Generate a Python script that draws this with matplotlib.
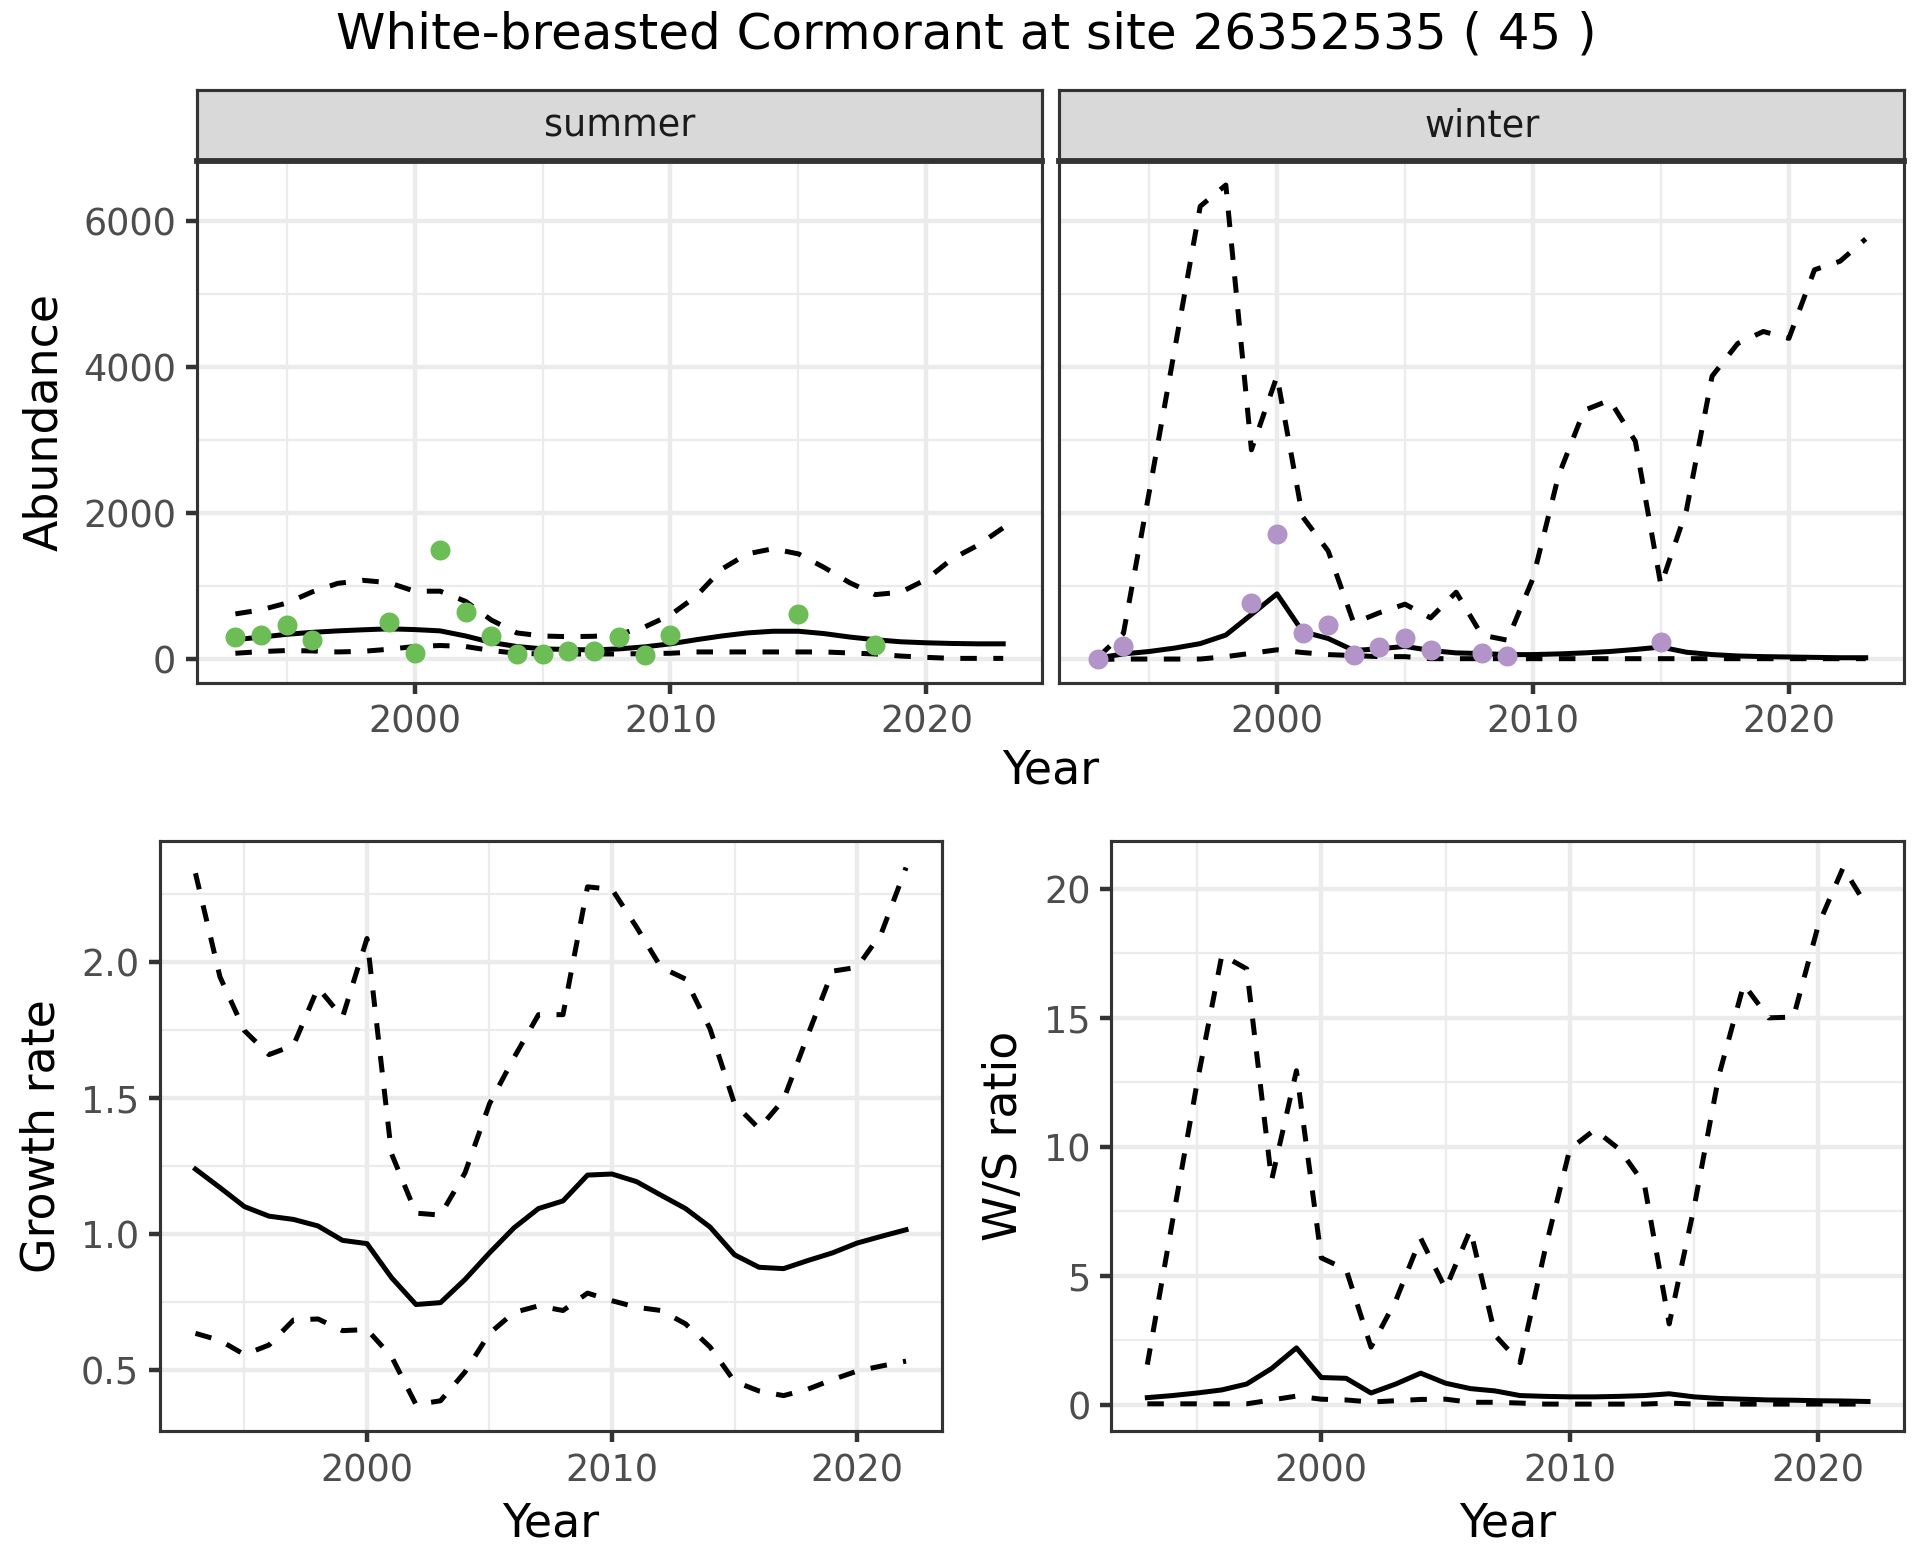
import matplotlib
matplotlib.use('Agg')
import matplotlib.pyplot as plt
from matplotlib.ticker import MultipleLocator
import numpy as np

plt.rcParams['font.family'] = 'DejaVu Sans'

# ---- data ----
years_ab = list(range(1993, 2024))

summer_mean = [270, 305, 343, 370, 390, 405, 418, 408, 390, 320, 232, 176, 144, 135, 130, 144,
               172, 213, 269, 320, 362, 385, 385, 353, 306, 269, 241, 227, 218, 213, 213]
summer_hi = [622, 677, 770, 923, 1040, 1081, 1049, 933, 933, 793, 538, 362, 320, 311, 316, 343,
             445, 608, 863, 1234, 1443, 1513, 1443, 1258, 1049, 886, 919, 1095, 1374, 1559, 1800]
summer_lo = [84, 107, 121, 116, 102, 111, 139, 176, 190, 176, 121, 84, 74, 74, 74, 74,
             79, 84, 102, 102, 102, 102, 102, 102, 88, 74, 46, 28, 14, 14, 14]
summer_obs_year = [1993, 1994, 1995, 1996, 1999, 2000, 2001, 2002, 2003, 2004, 2005, 2006,
                   2007, 2008, 2009, 2010, 2015, 2018]
summer_obs = [302, 334, 464, 260, 515, 93, 1490, 650, 320, 74, 70, 116, 111, 302, 65, 334, 617, 195]

winter_mean = [19, 75, 108, 155, 216, 333, 614, 896, 380, 286, 122, 145, 178, 122, 89, 80,
               66, 66, 75, 89, 108, 136, 169, 98, 66, 47, 38, 33, 28, 23, 23]
winter_hi = [28, 356, 2275, 4235, 6196, 6487, 2866, 3874, 1951, 1482, 497, 638, 755, 568, 919, 333,
             263, 1107, 2514, 3405, 3546, 2983, 1013, 2045, 3874, 4320, 4484, 4390, 5328, 5445, 5750]
winter_lo = [0, 5, 5, 5, 5, 38, 84, 131, 94, 66, 52, 38, 38, 10, 10, 10,
             10, 10, 10, 10, 10, 10, 10, 10, 10, 10, 10, 10, 10, 10, 10]
winter_obs_year = [1993, 1994, 1999, 2000, 2001, 2002, 2003, 2004, 2005, 2006, 2008, 2009, 2015]
winter_obs = [0, 178, 765, 1717, 366, 474, 66, 169, 286, 122, 84, 42, 239]

years_r = list(range(1993, 2023))
growth_mean = [1.237, 1.169, 1.099, 1.064, 1.052, 1.028, 0.975, 0.963, 0.838, 0.739, 0.746, 0.831,
               0.929, 1.021, 1.092, 1.120, 1.215, 1.219, 1.191, 1.141, 1.092, 1.024, 0.922, 0.876,
               0.871, 0.901, 0.929, 0.965, 0.990, 1.014]
growth_hi = [2.325, 1.944, 1.746, 1.658, 1.692, 1.904, 1.795, 2.085, 1.294, 1.075, 1.068, 1.223,
             1.477, 1.647, 1.805, 1.805, 2.275, 2.266, 2.127, 1.979, 1.936, 1.753, 1.477, 1.386,
             1.492, 1.732, 1.965, 1.979, 2.106, 2.346]
growth_lo = [0.633, 0.607, 0.555, 0.590, 0.682, 0.686, 0.643, 0.647, 0.548, 0.371, 0.385, 0.491,
             0.633, 0.710, 0.734, 0.717, 0.781, 0.753, 0.729, 0.717, 0.668, 0.583, 0.456, 0.421,
             0.404, 0.428, 0.463, 0.494, 0.513, 0.531]

ws_mean = [0.27, 0.35, 0.45, 0.57, 0.80, 1.40, 2.20, 1.05, 1.02, 0.45, 0.80, 1.22, 0.83, 0.62,
           0.53, 0.35, 0.32, 0.30, 0.30, 0.32, 0.35, 0.42, 0.30, 0.24, 0.21, 0.18, 0.17, 0.15,
           0.14, 0.12]
ws_hi = [1.55, 7.05, 12.47, 17.44, 16.9, 8.7, 12.95, 5.69, 5.24, 2.23, 4.04, 6.45, 4.49, 6.78,
         2.68, 1.63, 5.99, 9.91, 10.66, 9.9, 8.55, 3.13, 7.65, 12.77, 16.3, 15.0, 15.03, 18.6,
         20.83, 19.25]
ws_lo = [0.03, 0.03, 0.03, 0.03, 0.03, 0.18, 0.33, 0.21, 0.18, 0.10, 0.15, 0.20, 0.21, 0.09,
         0.09, 0.06, 0.02, 0.02, 0.02, 0.02, 0.02, 0.06, 0.02, 0.02, 0.02, 0.02, 0.02, 0.02,
         0.02, 0.02]

title = 'White-breasted Cormorant at site 26352535 ( 45 )'
green = '#6DBD57'
purple = '#B394C9'

# ---- ggplot theme_bw-ish helpers ----
LW = 1.07       # grid / ticks
DLW = 1.2       # data lines
BLW = 0.75      # panel border
GRID = '#EBEBEB'
DARK = '#333333'
TICKC = '#4D4D4D'
DASH = (0, (3.3, 3.3))


def expand(lo, hi, f=0.05):
    d = (hi - lo) * f
    return lo - d, hi + d


def style(ax, xlim, ylim, ymaj, ymin):
    ax.set_xlim(*xlim)
    ax.set_ylim(*ylim)
    ax.xaxis.set_major_locator(MultipleLocator(10))
    ax.xaxis.set_minor_locator(MultipleLocator(5))
    ax.yaxis.set_major_locator(MultipleLocator(ymaj))
    ax.yaxis.set_minor_locator(MultipleLocator(ymin))
    ax.grid(which='major', color=GRID, lw=LW)
    ax.grid(which='minor', color=GRID, lw=LW / 2)
    ax.set_axisbelow(True)
    for s in ax.spines.values():
        s.set_color(DARK)
        s.set_linewidth(BLW)
    ax.tick_params(which='major', length=2.75, width=LW, color=DARK,
                   labelsize=8.8, labelcolor=TICKC, pad=2.2)
    ax.tick_params(which='minor', length=0)


def lines(ax, x, mid, hi, lo):
    ax.plot(x, hi, color='black', lw=DLW, ls=DASH)
    ax.plot(x, lo, color='black', lw=DLW, ls=DASH)
    ax.plot(x, mid, color='black', lw=DLW)


fig = plt.figure(figsize=(6.4, 5.2), dpi=300)

# top facets
xl_ab = expand(1993, 2023)
all_ab = summer_hi + winter_hi + summer_lo + winter_lo + summer_obs + winter_obs
yl_ab = expand(min(all_ab), max(all_ab))

pw = 0.4399
left0 = 0.1026
gap = 0.0093
pb, ph = 0.5621, 0.3345
sh = 0.0458

ax_s = fig.add_axes([left0, pb, pw, ph])
ax_w = fig.add_axes([left0 + pw + gap, pb, pw, ph])

for ax, name, mid, hi, lo, oy, ov, col in [
        (ax_s, 'summer', summer_mean, summer_hi, summer_lo, summer_obs_year, summer_obs, green),
        (ax_w, 'winter', winter_mean, winter_hi, winter_lo, winter_obs_year, winter_obs, purple)]:
    style(ax, xl_ab, yl_ab, 2000, 1000)
    lines(ax, years_ab, mid, hi, lo)
    ax.plot(oy, ov, 'o', color=col, ms=4.8, mec='none', zorder=5)
    pos = ax.get_position()
    sax = fig.add_axes([pos.x0, pos.y1, pos.width, sh])
    sax.set_facecolor('#D9D9D9')
    sax.set_xticks([])
    sax.set_yticks([])
    for s in sax.spines.values():
        s.set_color(DARK)
        s.set_linewidth(BLW)
    sax.spines['bottom'].set_linewidth(1.4)
    sax.text(0.5, 0.5, name, ha='center', va='center', fontsize=8.8,
             color='#1A1A1A', transform=sax.transAxes)

ax_w.tick_params(axis='y', which='both', left=False, labelleft=False)
ax_s.set_ylabel('Abundance', fontsize=11, labelpad=4)
fig.text(left0 + pw + gap / 2, 0.506, 'Year', ha='center', va='center', fontsize=11)

fig.text(0.5035, 0.978, title, ha='center', va='center', fontsize=12)

# bottom row
xl_r = expand(1993, 2022)

ax_g = fig.add_axes([0.0833, 0.0824, 0.4071, 0.3787])
style(ax_g, xl_r, expand(min(growth_lo), max(growth_hi)), 0.5, 0.25)
lines(ax_g, years_r, growth_mean, growth_hi, growth_lo)
ax_g.set_ylabel('Growth rate', fontsize=11, labelpad=4)
ax_g.set_xlabel('Year', fontsize=11, labelpad=3)

ax_r = fig.add_axes([0.5788, 0.0824, 0.4129, 0.3787])
style(ax_r, xl_r, expand(min(ws_lo + [0]), max(ws_hi)), 5, 2.5)
lines(ax_r, years_r, ws_mean, ws_hi, ws_lo)
ax_r.set_ylabel('W/S ratio', fontsize=11, labelpad=4)
ax_r.set_xlabel('Year', fontsize=11, labelpad=3)

fig.savefig('out.png', dpi=300, facecolor='white')
